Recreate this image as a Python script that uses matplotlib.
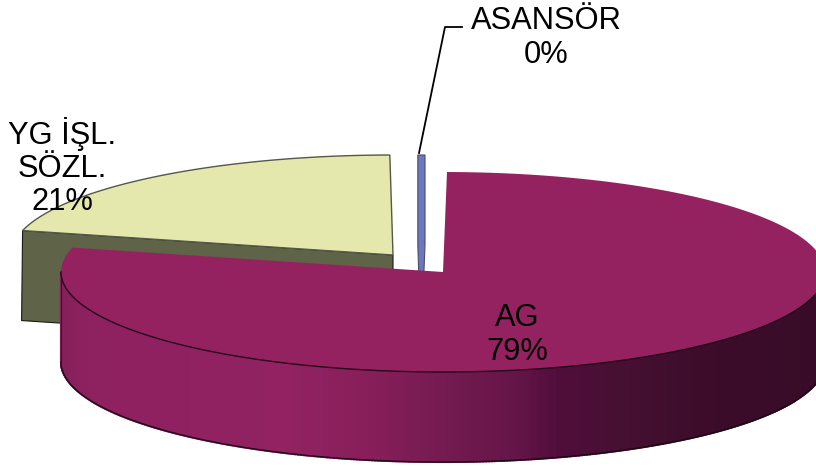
import numpy as np
import matplotlib
matplotlib.use("Agg")
import matplotlib.pyplot as plt
from matplotlib.colors import LinearSegmentedColormap
from matplotlib.patches import Polygon

plt.rcParams["font.family"] = ["Liberation Sans", "DejaVu Sans"]

# slice data, in drawing order round the pie (clockwise from the top)
labels = ["AG", "YG İŞL.\nSÖZL.", "ASANSÖR"]
values = [79, 21, 0.3]
shown_pct = ["79%", "21%", "0%"]

START_DEG = 0.6
RX, RY = 382, 100
DEPTH = 90
INK = "#1a1a14"

# pixel centre of each exploded slice
centres = [(443, 272), (393, 255), (421, 255)]
top_colors = ["#952260", "#e4e8ad", "#6b77c0"]
side_colors = [None, "#5f6348", "#5a66ae"]
text_pos = [(517, 335), (62, 167), (546, 38)]

# shading of the AG rim, running left to right across the picture
rim_cmap = LinearSegmentedColormap.from_list(
    "rim",
    [
        (0.00, "#85205a"),
        (0.03, "#8e2160"),
        (0.30, "#922262"),
        (0.42, "#851e58"),
        (0.52, "#711a50"),
        (0.60, "#651548"),
        (0.66, "#500d3b"),
        (0.74, "#461032"),
        (0.85, "#3c0c2a"),
        (1.00, "#380c28"),
    ],
)


def rim_points(centre, a_deg, b_deg, n=200):
    t = np.radians(np.linspace(a_deg, b_deg, n))
    return np.column_stack(
        [centre[0] + RX * np.sin(t), centre[1] - RY * np.cos(t)]
    )


fig = plt.figure(figsize=(8.16, 4.66), dpi=100)
ax = fig.add_axes([0, 0, 1, 1])
ax.set_xlim(0, 816)
ax.set_ylim(466, 0)
ax.axis("off")

total = sum(values)
spans = [v / total * 360 for v in values]
starts = START_DEG + np.concatenate([[0], np.cumsum(spans)[:-1]])

# YG slice: cut face, then the top
a, b = starts[1], starts[1] + spans[1]
c = np.array(centres[1], float)
p_left = rim_points(c, a, a, 1)[0]
face = [p_left, c, c + [0, DEPTH], p_left + [-1, DEPTH]]
ax.add_patch(Polygon(face, fc=side_colors[1], ec=INK, lw=0.8, zorder=2))
top = np.vstack([[c], rim_points(c, a, b)])
ax.add_patch(Polygon(top, fc=top_colors[1], ec="#55584a", lw=1.0, zorder=3))

# ASANSÖR slice: so thin that the faces read as one strip
a, b = starts[2], starts[2] + spans[2]
c = np.array(centres[2], float)
p1 = rim_points(c, a, a, 1)[0]
p2 = rim_points(c, b, b, 1)[0]
strip = [p1, p2, p2 + [0, DEPTH], c + [0, DEPTH], p1 + [0, DEPTH]]
ax.add_patch(Polygon(strip, fc=top_colors[2], ec="#4a4f60", lw=0.8, zorder=4))

# AG slice: shaded rim built from thin quads, then the top
a, b = starts[0], starts[0] + spans[0]
c = np.array(centres[0], float)
front = rim_points(c, 85, 270, 400)
for p, q in zip(front[:-1], front[1:]):
    shade = rim_cmap(np.clip((p[0] + q[0]) / 2 / 816 - 0.075, 0, 1) / 0.925)
    quad = [p, q, q + [0, DEPTH], p + [0, DEPTH]]
    ax.add_patch(Polygon(quad, fc=shade, ec=shade, lw=1.5, zorder=5))
ax.plot(*(front + [0, DEPTH]).T, color="#1c0a14", lw=1.0, zorder=6)
ax.plot([front[-1][0]] * 2, [front[-1][1], front[-1][1] + DEPTH],
        color="#3a1028", lw=0.8, zorder=6)
top = np.vstack([[c], rim_points(c, a, b, 500)])
ax.add_patch(Polygon(top, fc=top_colors[0], ec="none", zorder=7))
ax.plot(*front.T, color="#22081a", lw=1.0, zorder=8)

# leader line for the near-zero slice
ax.plot([419, 445, 462], [153, 27, 27], color="black", lw=1.3, zorder=9)

for name, pct, (x, y) in zip(labels, shown_pct, text_pos):
    ax.text(x, y, f"{name}\n{pct}", ha="center", va="center", fontsize=22.2,
            linespacing=1.15, color="black", zorder=10)

fig.savefig("out.png", dpi=100)
